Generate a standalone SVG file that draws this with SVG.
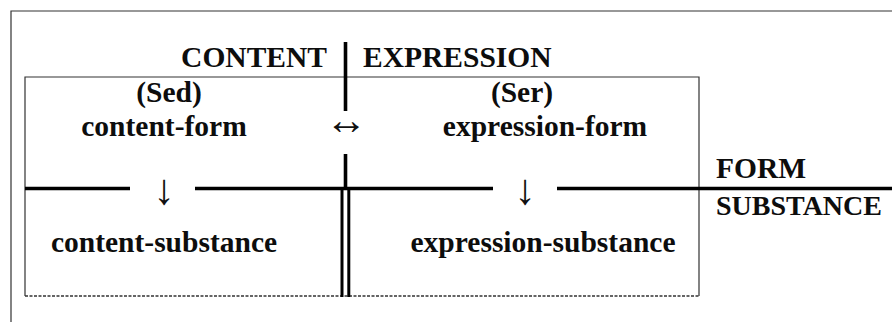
<svg xmlns="http://www.w3.org/2000/svg" width="892" height="322" viewBox="0 0 892 322">
  <style>
    .t { font-family: "Liberation Serif", "Times New Roman", serif; font-weight: bold; fill: #0d0d0d; }
    .big { font-size: 29.5px; }
    .mid { font-size: 28px; }
    .glyph { font-family: "Liberation Serif", "DejaVu Serif", serif; fill: #111; }
    .frame { stroke: #333; stroke-width: 1.2; fill: none; }
    .rule { stroke: #000; stroke-width: 3.6; fill: none; }
    .bar { stroke: #000; stroke-width: 3; fill: none; }
    .dash { stroke: #333; stroke-width: 1.3; stroke-dasharray: 3 1.5; fill: none; }
  </style>

  <rect width="892" height="322" fill="#fff"/>

  <!-- outer frame: top and left edges -->
  <path class="frame" d="M11 322 V11 H892"/>

  <!-- inner box -->
  <path class="frame" d="M25 296 V77 H699 V296"/>
  <path class="dash" d="M25 296 H699"/>

  <!-- dividing rules between the planes and the strata -->
  <g id="connectors">
    <line class="rule" x1="345.5" y1="42" x2="345.5" y2="111"/>
    <line class="rule" x1="345.5" y1="154" x2="345.5" y2="188"/>
    <line class="rule" x1="25" y1="188.5" x2="130" y2="188.5"/>
    <line class="rule" x1="195" y1="188.5" x2="493" y2="188.5"/>
    <line class="rule" x1="557" y1="188.5" x2="892" y2="188.5"/>
    <line class="bar" x1="342" y1="188" x2="342" y2="297"/>
    <line class="bar" x1="348.8" y1="188" x2="348.8" y2="297"/>
    <text class="glyph" x="346" y="134" font-size="42" font-weight="bold" text-anchor="middle">↔</text>
    <text class="glyph" x="164" y="203.5" font-size="43" text-anchor="middle">↓</text>
    <text class="glyph" x="525" y="203.5" font-size="43" text-anchor="middle">↓</text>
  </g>

  <g id="plane-content">
    <text class="t big" x="327" y="67" text-anchor="end">CONTENT</text>
  </g>
  <g id="plane-expression">
    <text class="t big" x="363" y="67">EXPRESSION</text>
  </g>

  <g id="content-form">
    <text class="t big" x="169" y="102" text-anchor="middle">(Sed)</text>
    <text class="t big" x="164" y="136" text-anchor="middle">content-form</text>
  </g>
  <g id="expression-form">
    <text class="t big" x="522" y="102" text-anchor="middle">(Ser)</text>
    <text class="t big" x="545" y="136" text-anchor="middle">expression-form</text>
  </g>

  <g id="stratum-form">
    <text class="t big" x="716" y="178">FORM</text>
  </g>
  <g id="stratum-substance">
    <text class="t mid" x="716" y="215">SUBSTANCE</text>
  </g>

  <g id="content-substance">
    <text class="t big" x="164" y="252" text-anchor="middle">content-substance</text>
  </g>
  <g id="expression-substance">
    <text class="t big" x="543" y="252" text-anchor="middle">expression-substance</text>
  </g>
</svg>
